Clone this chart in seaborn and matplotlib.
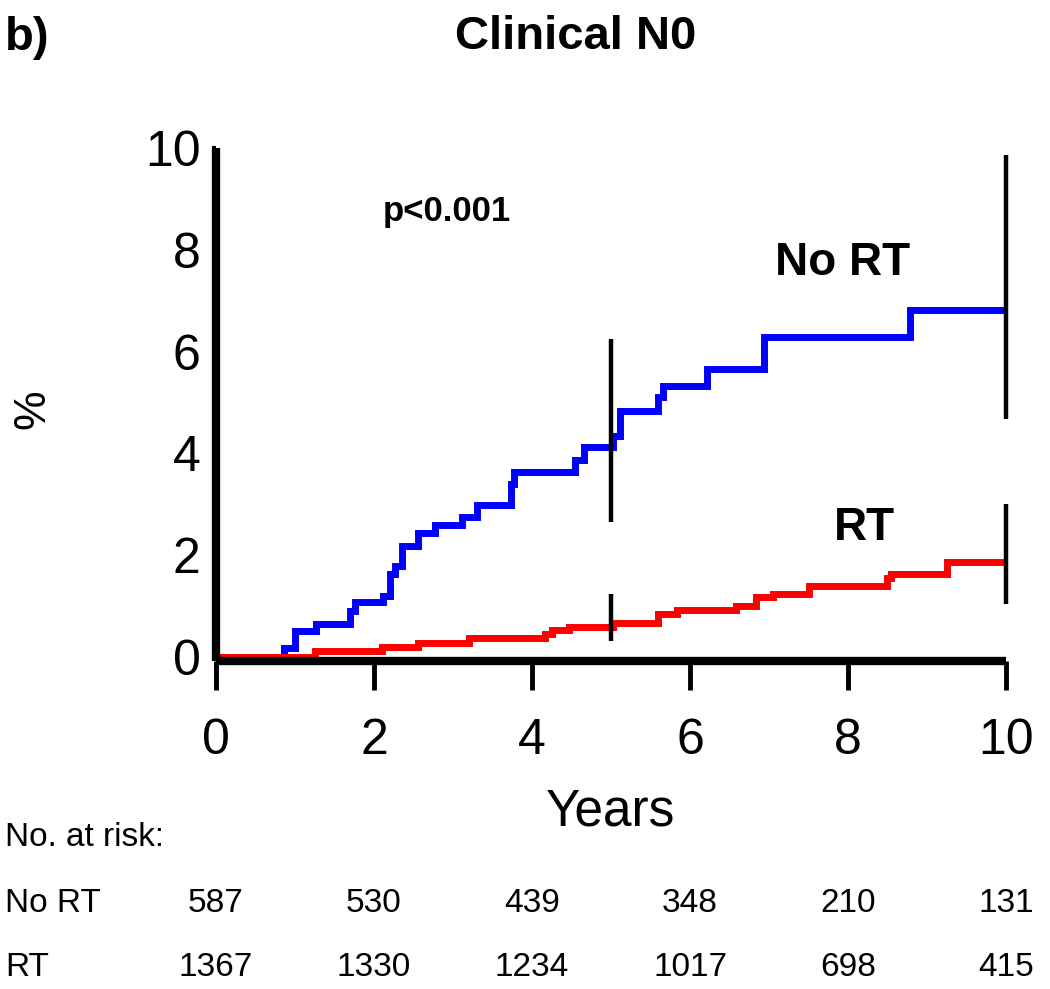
import pandas as pd
import numpy as np
import matplotlib
matplotlib.use("Agg")
import matplotlib.pyplot as plt
import matplotlib.transforms as mtrans
import seaborn as sns

sns.set_theme(style="white")
plt.rcParams["font.family"] = ["Liberation Sans", "DejaVu Sans"]
plt.rcParams["text.color"] = "black"
plt.rcParams["axes.labelcolor"] = "black"
plt.rcParams["xtick.color"] = "black"
plt.rcParams["ytick.color"] = "black"

# step curves (years, cumulative %)
no_rt_t = [0, 0.86, 1.00, 1.27, 1.70, 1.76, 2.12, 2.20, 2.27, 2.35, 2.56, 2.77,
           3.11, 3.30, 3.73, 3.77, 4.55, 4.66, 5.02, 5.12, 5.60, 5.66, 6.22,
           6.94, 8.78, 10.0]
no_rt_y = [0, 0.18, 0.51, 0.65, 0.90, 1.07, 1.20, 1.63, 1.79, 2.18, 2.43, 2.59,
           2.74, 2.98, 3.39, 3.63, 3.86, 4.12, 4.34, 4.84, 5.10, 5.33, 5.65,
           6.29, 6.81, 6.81]
rt_t = [0, 1.25, 2.10, 2.56, 3.20, 4.17, 4.25, 4.47, 5.02, 5.59, 5.84, 6.58,
        6.84, 7.05, 7.51, 8.49, 8.55, 9.25, 10.0]
rt_y = [0, 0.12, 0.20, 0.27, 0.37, 0.45, 0.52, 0.58, 0.66, 0.84, 0.92, 1.00,
        1.17, 1.23, 1.40, 1.56, 1.63, 1.87, 1.87]

# confidence bars at 5 and 10 years
ci_t = [5, 10]
no_rt_lo = [2.65, 4.67]
no_rt_hi = [6.24, 9.86]
rt_lo = [0.32, 1.04]
rt_hi = [1.24, 3.00]

# numbers at risk
risk_years = [0, 2, 4, 6, 8, 10]
risk_no_rt = [587, 530, 439, 348, 210, 131]
risk_rt = [1367, 1330, 1234, 1017, 698, 415]

df = pd.concat([
    pd.DataFrame({"years": no_rt_t, "pct": no_rt_y, "group": "No RT"}),
    pd.DataFrame({"years": rt_t, "pct": rt_y, "group": "RT"}),
])

W, H = 1050, 989
fig = plt.figure(figsize=(W / 100, H / 100), dpi=100)
ax = fig.add_axes([216 / W, 1 - 661 / H, 790 / W, 513 / H])

sns.lineplot(data=df, x="years", y="pct", hue="group", hue_order=["No RT", "RT"],
             palette={"No RT": "#0000ff", "RT": "#ff0000"}, drawstyle="steps-post",
             estimator=None, linewidth=5, legend=False, ax=ax,
             solid_joinstyle="miter", solid_capstyle="butt")

ax.vlines(ci_t, no_rt_lo, no_rt_hi, color="black", linewidth=3.2, clip_on=False)
ax.vlines(ci_t, rt_lo, rt_hi, color="black", linewidth=3.2, clip_on=False)

ax.set_xlim(0, 10)
ax.set_ylim(-0.08, 10)
ax.set_xticks(range(0, 11, 2))
ax.set_yticks(range(0, 11, 2))
for side in ["top", "right"]:
    ax.spines[side].set_visible(False)
for side in ["left", "bottom"]:
    ax.spines[side].set_linewidth(6)
    ax.spines[side].set_color("black")
    ax.spines[side].set_capstyle("butt")
ax.tick_params(axis="x", direction="out", length=21, width=3.5, pad=20,
               labelsize=36, bottom=True)
ax.tick_params(axis="y", direction="out", length=3, width=3, pad=8,
               labelsize=36, left=True)

ax.set_ylabel("%", fontsize=32)
ax.yaxis.set_label_coords(-0.206, 0.49)
ax.set_xlabel("Years", fontsize=37)
ax.xaxis.set_label_coords(0.499, -0.294)
ax.xaxis.label.set_verticalalignment("center")

ax.text(2.92, 8.76, "p<0.001", fontsize=25, fontweight="bold", ha="center", va="center")
ax.text(7.93, 7.75, "No RT", fontsize=33, fontweight="bold", ha="center", va="center")
ax.text(8.21, 2.53, "RT", fontsize=33, fontweight="bold", ha="center", va="center")

fig.text(5 / W, 1 - 38 / H, "b)", fontsize=34, fontweight="bold", ha="left", va="center")
fig.text(576 / W, 1 - 37 / H, "Clinical N0", fontsize=34, fontweight="bold",
         ha="center", va="center")

# risk table under the axis
fig.text(5 / W, 1 - 837 / H, "No. at risk:", fontsize=24, ha="left", va="center")
fig.text(5 / W, 1 - 903 / H, "No RT", fontsize=24, ha="left", va="center")
fig.text(5 / W, 1 - 967 / H, "RT", fontsize=24, ha="left", va="center")
trans = mtrans.blended_transform_factory(ax.transData, fig.transFigure)
for yr, a, b in zip(risk_years, risk_no_rt, risk_rt):
    ax.text(yr, 1 - 903 / H, str(a), fontsize=24, ha="center", va="center",
            transform=trans, clip_on=False)
    ax.text(yr, 1 - 967 / H, str(b), fontsize=24, ha="center", va="center",
            transform=trans, clip_on=False)

fig.savefig("out.png", dpi=100)
